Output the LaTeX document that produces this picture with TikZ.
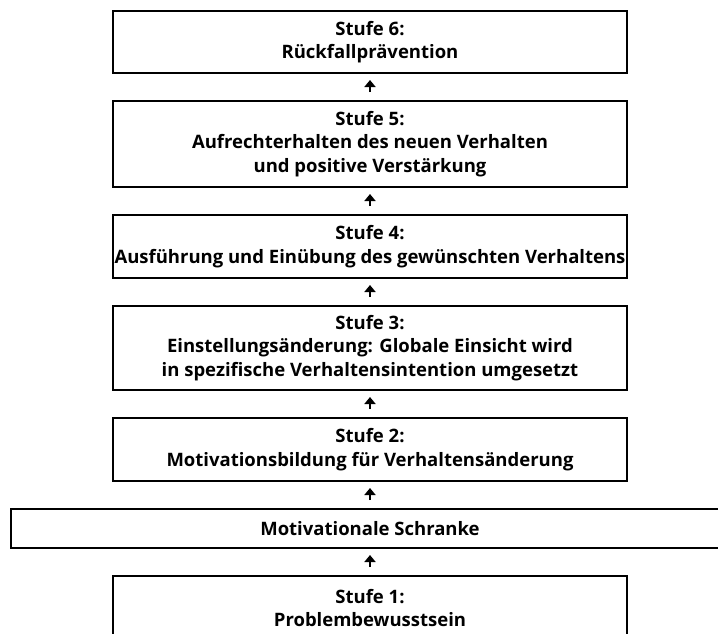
\documentclass[tikz,border=0pt]{standalone}
\usepackage{fontspec}
\setmainfont{Open Sans}
\usetikzlibrary{positioning,arrows.meta}
\begin{document}
\begin{tikzpicture}[x=1pt, y=1pt, node distance=26pt,
        stufe/.style={draw, line width=2pt, minimum width=514pt, minimum height=#1, inner sep=0pt,
            align=center, font=\bfseries\fontsize{18.5}{23.5}\selectfont},
        pfeil/.style={-{Triangle[width=11pt,length=7pt]}, line width=2pt, shorten <=8pt, shorten >=6pt}]
    \clip (0,0) rectangle (718,-633);
    \node[stufe=62] (s6) at (370,-42) {Stufe 6:\\Rückfallprävention};
    \node[stufe=86, below=of s6] (s5) {Stufe 5:\\Aufrechterhalten des neuen Verhalten\\und positive Verstärkung};
    \node[stufe=63, below=of s5] (s4) {Stufe 4:\\Ausführung und Einübung des gewünschten Verhaltens};
    \node[stufe=84, below=of s4] (s3) {Stufe 3:\\Einstellungsänderung: Globale Einsicht wird\\in spezifische Verhaltensintention umgesetzt};
    \node[stufe=63, below=of s3] (s2) {Stufe 2:\\Motivationsbildung für Verhaltensänderung};
    \node[stufe=39, minimum width=718pt, below=of s2] (schranke) {Motivationale Schranke};
    \node[stufe=64, below=of schranke] (s1) {Stufe 1:\\Problembewusstsein};
    \foreach \von/\nach in {s5/s6, s4/s5, s3/s4, s2/s3, schranke/s2, s1/schranke}
        \draw[pfeil] (\von) -- (\nach);
\end{tikzpicture}
\end{document}
